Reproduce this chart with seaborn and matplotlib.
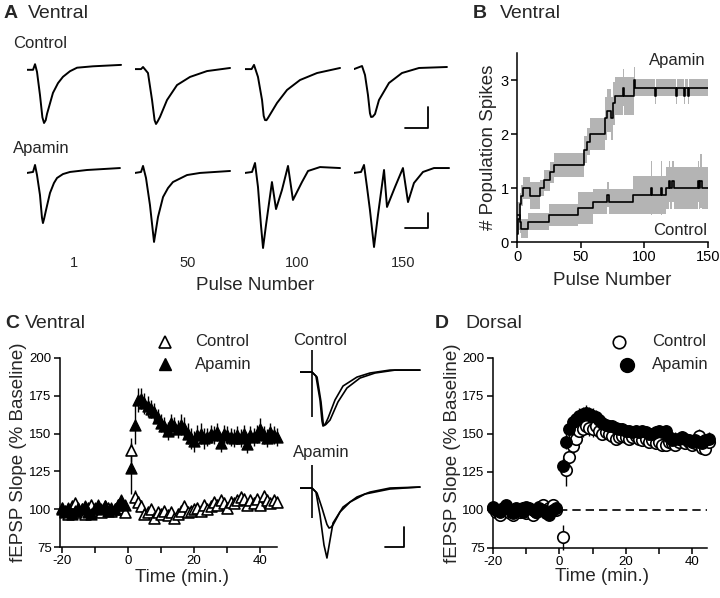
import numpy as np
import seaborn as sns
import matplotlib
matplotlib.use("Agg")
import matplotlib.pyplot as plt

# ---------------- data ----------------
# Panel A: example field potentials (t in ms, v in mV relative to baseline)
ctrl1_t = [0, 0.55, 0.73, 0.91, 1.18, 1.4, 1.55, 1.7, 1.82, 2.36, 2.82, 3.27, 3.91, 4.55, 6.0, 8.55]
ctrl1_v = [-0.2, -0.2, 0.2, -0.35, -2.0, -3.6, -4.0, -3.8, -3.35, -1.85, -1.15, -0.7, -0.3, -0.05, 0.05, 0.15]
ctrl2_t = [0, 0.55, 0.73, 1.18, 1.55, 1.78, 1.91, 2.05, 2.27, 2.91, 3.82, 5.0, 6.55, 8.64]
ctrl2_v = [-0.15, -0.15, 0.0, -0.43, -2.36, -3.8, -4.07, -3.9, -3.57, -2.36, -1.29, -0.71, -0.29, -0.07]
ctrl3_t = [0, 0.6, 0.82, 1.18, 1.55, 1.7, 1.82, 1.95, 2.09, 2.91, 3.82, 5.0, 6.55, 8.64]
ctrl3_v = [-0.15, -0.15, 0.15, -0.71, -2.36, -3.5, -3.79, -3.8, -3.64, -2.57, -1.64, -0.93, -0.43, -0.07]
ctrl4_t = [0, 0.73, 1.0, 1.27, 1.45, 1.55, 1.7, 1.91, 2.27, 3.18, 4.36, 5.91, 8.45]
ctrl4_v = [-0.15, 0.07, -0.57, -2.0, -3.3, -3.57, -3.55, -3.36, -2.36, -1.14, -0.43, -0.07, 0.0]

apa1_t = [0, 0.55, 0.73, 0.91, 1.18, 1.36, 1.45, 1.55, 1.73, 2.09, 2.45, 2.73, 3.27, 3.91, 5.45, 8.45]
apa1_v = [-0.21, -0.14, 0.36, -0.36, -1.79, -3.4, -3.79, -3.5, -2.86, -1.64, -0.93, -0.57, -0.29, -0.14, 0.0, 0.14]
apa2_t = [0, 0.55, 0.73, 1.0, 1.36, 1.73, 2.09, 2.55, 3.0, 3.45, 4.73, 5.91, 8.64]
apa2_v = [-0.21, -0.14, 0.29, -0.57, -2.5, -5.14, -3.36, -1.93, -1.29, -0.86, -0.36, -0.21, -0.07]
apa3_t = [0, 0.64, 0.91, 1.18, 1.45, 1.64, 1.91, 2.45, 2.82, 3.36, 3.91, 4.36, 5.18, 5.73, 6.82, 8.64]
apa3_v = [-0.21, -0.14, 0.5, -1.21, -3.93, -5.57, -3.93, -0.86, -2.79, -1.43, 0.29, -2.14, -0.86, -0.07, 0.21, 0.14]
apa4_t = [0, 0.64, 0.91, 1.18, 1.45, 1.82, 2.18, 2.73, 3.0, 3.73, 4.45, 4.91, 5.45, 6.27, 7.27, 8.64]
apa4_v = [-0.21, -0.14, 0.36, -1.21, -2.86, -5.5, -3.21, 0.0, -2.64, -1.21, 0.14, -2.29, -0.93, -0.14, 0.14, 0.14]

pulse_labels = ["1", "50", "100", "150"]

# Panel B: number of population spikes per pulse (step changes)
apa_pulse = [0, 1, 2, 3, 5, 10, 18, 21, 26, 29, 53, 55, 57, 69, 71, 74, 75, 77, 83, 84,
             92, 93, 108, 109, 125, 126, 131, 132, 134, 135, 150]
apa_mean = [0.14, 0.43, 0.71, 0.86, 1.0, 0.86, 1.0, 1.14, 1.29, 1.43, 1.71, 1.86, 2.0, 2.29, 2.43,
            2.29, 2.57, 2.71, 2.86, 2.71, 3.0, 2.86, 2.71, 2.86, 2.71, 2.86, 2.71, 2.86, 2.71, 2.86, 2.86]
apa_sem = [0.14, 0.2, 0.2, 0.2, 0.2, 0.25, 0.15, 0.2, 0.2, 0.22, 0.25, 0.25, 0.3, 0.4, 0.4,
           0.4, 0.4, 0.35, 0.35, 0.35, 0.25, 0.15, 0.15, 0.15, 0.15, 0.15, 0.15, 0.15, 0.15, 0.15, 0.15]
ctl_pulse = [0, 2, 3, 9, 25, 48, 60, 71, 72, 91, 105, 106, 113, 114, 117, 119, 120, 122, 123,
             142, 143, 144, 145, 150]
ctl_mean = [0.5, 0.375, 0.25, 0.375, 0.5, 0.625, 0.75, 0.875, 0.75, 0.875, 1.0, 0.875, 1.0, 0.875,
            1.0, 1.125, 1.0, 1.125, 1.0, 1.125, 1.0, 1.125, 1.0, 1.0]
ctl_sem = [0.25, 0.2, 0.18, 0.16, 0.2, 0.3, 0.23, 0.23, 0.23, 0.35, 0.5, 0.35, 0.5, 0.35,
           0.38, 0.38, 0.38, 0.38, 0.38, 0.38, 0.38, 0.5, 0.38, 0.38]

# Panels C, D: fEPSP slope (% baseline) per minute
time_min = list(range(-20, 0)) + list(range(1, 46))

c_ctrl = [101, 99, 97, 102, 104, 98, 100, 97, 101, 103, 99, 100, 98, 102, 101, 99, 100, 103, 101, 98,
          139, 108, 105, 102, 97, 98, 100, 94, 98, 97, 99, 96, 98, 94, 97, 99, 102, 98, 99, 100,
          101, 99, 103, 100, 102, 105, 103, 106, 104, 101, 105, 104, 106, 108, 107, 103, 106, 104, 107, 103,
          109, 106, 104, 106, 105]
c_ctrl_err = [3, 3, 2, 3, 3, 2, 3, 3, 2, 3, 3, 2, 3, 3, 2, 3, 3, 2, 3, 3,
              8, 5, 4, 4, 3, 3, 3, 3, 3, 3, 3, 3, 3, 3, 3, 3, 3, 3, 3, 3,
              3, 3, 3, 3, 3, 3, 3, 3, 3, 3, 4, 3, 3, 3, 3, 3, 3, 3, 3, 3,
              3, 3, 3, 3, 3]
c_apa = [100, 98, 101, 97, 99, 101, 100, 102, 98, 97, 101, 103, 100, 102, 99, 101, 100, 103, 106, 103,
         127, 156, 172, 173, 170, 168, 166, 164, 160, 157, 155, 152, 157, 155, 153, 156, 154, 150, 147, 145,
         149, 150, 147, 148, 150, 149, 151, 144, 150, 149, 148, 147, 149, 147, 150, 143, 149, 148, 150, 153,
         149, 147, 151, 149, 148]
c_apa_err = [3, 3, 3, 2, 3, 3, 3, 2, 3, 3, 3, 2, 3, 3, 3, 2, 3, 3, 3, 3,
             17, 13, 8, 7, 7, 7, 6, 6, 6, 6, 6, 6, 6, 6, 6, 7, 7, 7, 7, 7,
             7, 7, 7, 6, 6, 6, 6, 6, 6, 6, 6, 6, 6, 6, 6, 6, 6, 6, 6, 7,
             6, 6, 6, 6, 6]

d_ctrl = [101, 99, 97, 100, 102, 98, 97, 100, 99, 101, 98, 100, 97, 99, 102, 103, 100, 101, 103, 100,
          82, 126, 135, 142, 147, 152, 153, 155, 154, 153, 155, 152, 150, 151, 150, 149, 147, 148, 149, 148,
          147, 148, 149, 147, 146, 147, 145, 146, 144, 145, 143, 143, 145, 144, 143, 145, 146, 144, 145, 143,
          144, 149, 141, 140, 145]
d_ctrl_err = [3, 2, 3, 3, 2, 3, 3, 2, 3, 3, 2, 3, 3, 2, 3, 3, 2, 3, 3, 3,
              8, 10, 6, 5, 5, 5, 5, 5, 5, 5, 5, 5, 4, 4, 4, 4, 4, 4, 4, 4,
              4, 4, 4, 4, 4, 4, 4, 4, 4, 4, 4, 4, 4, 4, 4, 4, 4, 4, 4, 4,
              4, 4, 4, 4, 4]
d_apa = [102, 100, 99, 101, 103, 100, 98, 101, 100, 99, 102, 101, 100, 99, 101, 100, 98, 97, 100, 101,
         129, 145, 153, 158, 160, 162, 163, 164, 163, 162, 161, 159, 157, 156, 155, 155, 154, 153, 153, 152,
         152, 151, 152, 151, 152, 151, 150, 150, 151, 152, 151, 152, 148, 146, 147, 147, 148, 147, 146, 145,
         146, 145, 144, 146, 147]
d_apa_err = [2, 2, 3, 2, 2, 3, 2, 2, 3, 2, 2, 3, 2, 2, 3, 2, 2, 3, 2, 2,
             5, 5, 5, 5, 5, 5, 5, 5, 5, 5, 5, 5, 4, 4, 4, 4, 4, 4, 4, 4,
             4, 4, 4, 4, 4, 4, 4, 4, 4, 4, 4, 4, 4, 4, 4, 4, 4, 4, 4, 4,
             4, 4, 4, 4, 4]

# Panel C insets: superimposed pre / post traces
ins_ctrl_a_t = [0, 1.09, 1.45, 1.82, 2.0, 2.09, 2.25, 2.55, 3.18, 3.91, 5.18, 6.36, 8.18, 10.9]
ins_ctrl_a_v = [0, 0, -0.29, -2.0, -3.5, -3.86, -3.8, -3.29, -2.0, -1.0, -0.36, -0.07, 0.14, 0.14]
ins_ctrl_b_t = [0, 1.09, 1.55, 1.91, 2.1, 2.18, 2.35, 2.73, 3.45, 4.27, 5.45, 6.82, 8.64, 10.9]
ins_ctrl_b_v = [0, 0, -0.36, -2.14, -3.6, -3.79, -3.75, -3.43, -2.14, -1.14, -0.43, -0.07, 0.14, 0.14]
ins_apa_a_t = [0, 1.09, 1.45, 1.82, 2.18, 2.45, 2.73, 3.0, 3.91, 5.18, 6.36, 8.18, 10.9]
ins_apa_a_v = [0, 0, -0.29, -1.93, -4.07, -5.0, -3.71, -2.5, -1.36, -0.64, -0.29, 0.0, 0.07]
ins_apa_b_t = [0, 1.09, 1.55, 2.0, 2.45, 2.64, 2.82, 3.0, 3.64, 4.55, 5.91, 8.18, 10.9]
ins_apa_b_v = [0, 0, -0.36, -1.43, -2.6, -2.86, -2.8, -2.64, -1.71, -1.0, -0.43, -0.07, 0.07]
ins_ctrl_artifact = [1.57, -3.21]
ins_apa_artifact = [1.64, -2.14]

# ---------------- style ----------------
sns.set_theme(style="ticks")
plt.rcParams["font.family"] = ["Liberation Sans", "DejaVu Sans"]
plt.rcParams["axes.linewidth"] = 1.1
plt.rcParams["xtick.major.width"] = 1.1
plt.rcParams["ytick.major.width"] = 1.1
plt.rcParams["xtick.major.size"] = 4
plt.rcParams["ytick.major.size"] = 4
plt.rcParams["axes.edgecolor"] = "black"
plt.rcParams["xtick.color"] = "black"
plt.rcParams["ytick.color"] = "black"

W, H = 720, 598
fig = plt.figure(figsize=(W / 100, H / 100), dpi=100)
fig.patch.set_facecolor("white")


def px_axes(l, t, r, b):
    return fig.add_axes([l / W, 1 - b / H, (r - l) / W, (b - t) / H])


def ftext(x, y, s, **kw):
    kw.setdefault("va", "baseline")
    fig.text(x / W, 1 - y / H, s, **kw)


def trace(ax, t, v, lw=1.4):
    sns.lineplot(x=t, y=v, sort=False, estimator=None, color="black", lw=lw, ax=ax)


def panel_title(x, y, letter, name, gap):
    ftext(x, y, letter, fontsize=14, fontweight="bold")
    ftext(x + gap, y, name, fontsize=14)


# ---------------- panel A ----------------
col_left = [27, 135, 245, 354]
ctrl_traces = [(ctrl1_t, ctrl1_v), (ctrl2_t, ctrl2_v), (ctrl3_t, ctrl3_v), (ctrl4_t, ctrl4_v)]
apa_traces = [(apa1_t, apa1_v), (apa2_t, apa2_v), (apa3_t, apa3_v), (apa4_t, apa4_v)]

for row, (top, traces) in enumerate([(53, ctrl_traces), (156, apa_traces)]):
    for i, (t, v) in enumerate(traces):
        ax = px_axes(col_left[i], top, col_left[i] + 100, top + 98)
        trace(ax, t, v)
        ax.set_xlim(0, 100 / 11)
        ax.set_ylim(-6, 1)
        ax.axis("off")
        if i == 3:
            # scale bars
            if row == 0:
                ax.plot([4.64, 6.73, 6.73], [-4.36, -4.36, -2.86], color="black", lw=1.3)
            else:
                ax.plot([4.64, 6.73, 6.73], [-4.14, -4.14, -3.07], color="black", lw=1.3)

panel_title(4, 18, "A", "Ventral", 24)
ftext(13, 48, "Control", fontsize=12)
ftext(13, 153, "Apamin", fontsize=12)
for cx, lab in zip([74, 188, 297, 403], pulse_labels):
    ftext(cx, 267, lab, fontsize=10.5, ha="center")
ftext(255, 290, "Pulse Number", fontsize=13.5, ha="center")

# ---------------- panel B ----------------
axb = px_axes(517, 53, 708, 242)
for xs, ms, ss in [(ctl_pulse, ctl_mean, ctl_sem), (apa_pulse, apa_mean, apa_sem)]:
    m = np.array(ms)
    s = np.array(ss)
    axb.fill_between(xs, m - s, m + s, step="post", color="#b4b4b4", lw=0)
for xs, ms in [(ctl_pulse, ctl_mean), (apa_pulse, apa_mean)]:
    sns.lineplot(x=xs, y=ms, drawstyle="steps-post", sort=False, estimator=None,
                 color="black", lw=1.2, ax=axb)
axb.set_xlim(0, 150)
axb.set_ylim(0, 3.5)
axb.set_xticks([0, 50, 100, 150])
axb.set_yticks([0, 1, 2, 3])
axb.tick_params(labelsize=10.5, direction="out", pad=2)
axb.set_ylabel("# Population Spikes", fontsize=13.5)
axb.set_xlabel("Pulse Number", fontsize=13.5)
axb.yaxis.set_label_coords(-0.105, 0.5)
axb.xaxis.set_label_coords(0.5, -0.16)
axb.text(0.99, 0.96, "Apamin", transform=axb.transAxes, ha="right", va="center", fontsize=12)
axb.text(0.995, 0.063, "Control", transform=axb.transAxes, ha="right", va="center", fontsize=12)
sns.despine(ax=axb)
panel_title(473, 18, "B", "Ventral", 27)


# ---------------- panels C & D ----------------
def slope_panel(ax, ctrl, ctrl_err, apa, apa_err, marker, xlim, s):
    ax.errorbar(time_min, ctrl, yerr=ctrl_err, fmt="none", ecolor="black", elinewidth=1.0,
                capsize=0, zorder=2, clip_on=False)
    ax.errorbar(time_min, apa, yerr=apa_err, fmt="none", ecolor="black", elinewidth=1.0,
                capsize=0, zorder=2, clip_on=False)
    sns.scatterplot(x=time_min, y=ctrl, marker=marker, s=s, color="white", edgecolor="black",
                    linewidth=1.2, ax=ax, zorder=3, clip_on=False)
    sns.scatterplot(x=time_min, y=apa, marker=marker, s=s, color="black", edgecolor="black",
                    linewidth=1.0, ax=ax, zorder=4, clip_on=False)
    ax.set_xlim(*xlim)
    ax.set_ylim(75, 200)
    ax.set_xticks([-20, -10, 0, 10, 20, 30, 40])
    ax.set_xticklabels(["-20", "", "0", "", "20", "", "40"])
    ax.set_yticks([75, 100, 125, 150, 175, 200])
    ax.tick_params(labelsize=9.5, direction="out", pad=2)
    ax.set_ylabel("fEPSP Slope (% Baseline)", fontsize=13.5)
    ax.set_xlabel("Time (min.)", fontsize=13.5)
    sns.despine(ax=ax)


axc = px_axes(60, 358, 277, 547)
slope_panel(axc, c_ctrl, c_ctrl_err, c_apa, c_apa_err, "^", (-20.5, 45), 62)
axc.yaxis.set_label_coords(-0.15, 0.5)
axc.xaxis.set_label_coords(0.56, -0.115)
axc.plot([0.484], [1.085], marker="^", ms=9, mfc="white", mec="black", mew=1.2,
         transform=axc.transAxes, clip_on=False)
axc.plot([0.484], [0.968], marker="^", ms=9, mfc="black", mec="black",
         transform=axc.transAxes, clip_on=False)
axc.text(0.622, 1.085, "Control", transform=axc.transAxes, va="center", fontsize=12)
axc.text(0.622, 0.968, "Apamin", transform=axc.transAxes, va="center", fontsize=12)
panel_title(5, 328, "C", "Ventral", 20)

axd = px_axes(493, 358, 707, 548)
axd.hlines(100, 0, 44.5, colors="black", linestyles=(0, (5, 3)), lw=1.2, zorder=1)
slope_panel(axd, d_ctrl, d_ctrl_err, d_apa, d_apa_err, "o", (-20, 44.5), 68)
axd.yaxis.set_label_coords(-0.15, 0.5)
axd.xaxis.set_label_coords(0.51, -0.105)
axd.plot([0.589], [1.085], marker="o", ms=9, mfc="white", mec="black", mew=1.2,
         transform=axd.transAxes, clip_on=False)
axd.plot([0.626], [0.962], marker="o", ms=10, mfc="black", mec="black",
         transform=axd.transAxes, clip_on=False)
axd.text(0.743, 1.085, "Control", transform=axd.transAxes, va="center", fontsize=12)
axd.text(0.743, 0.968, "Apamin", transform=axd.transAxes, va="center", fontsize=12)
panel_title(435, 328, "D", "Dorsal", 30)

# ---------------- panel C insets ----------------
ax_ic = px_axes(300, 340, 425, 435)
trace(ax_ic, ins_ctrl_a_t, ins_ctrl_a_v, lw=1.2)
trace(ax_ic, ins_ctrl_b_t, ins_ctrl_b_v, lw=1.2)
ax_ic.vlines(1.09, ins_ctrl_artifact[1], ins_ctrl_artifact[0], colors="black", lw=1.2)
ax_ic.set_xlim(0, 125 / 11)
ax_ic.set_ylim(-4.5, 2.29)
ax_ic.axis("off")

ax_ia = px_axes(300, 455, 425, 565)
trace(ax_ia, ins_apa_a_t, ins_apa_a_v, lw=1.2)
trace(ax_ia, ins_apa_b_t, ins_apa_b_v, lw=1.2)
ax_ia.vlines(1.09, ins_apa_artifact[1], ins_apa_artifact[0], colors="black", lw=1.2)
ax_ia.plot([7.73, 9.45, 9.45], [-4.21, -4.21, -2.79], color="black", lw=1.3)
ax_ia.set_xlim(0, 125 / 11)
ax_ia.set_ylim(-5.5, 2.36)
ax_ia.axis("off")

ftext(293, 345, "Control", fontsize=12)
ftext(293, 457, "Apamin", fontsize=12)

fig.savefig("out.png", dpi=100, facecolor="white")
